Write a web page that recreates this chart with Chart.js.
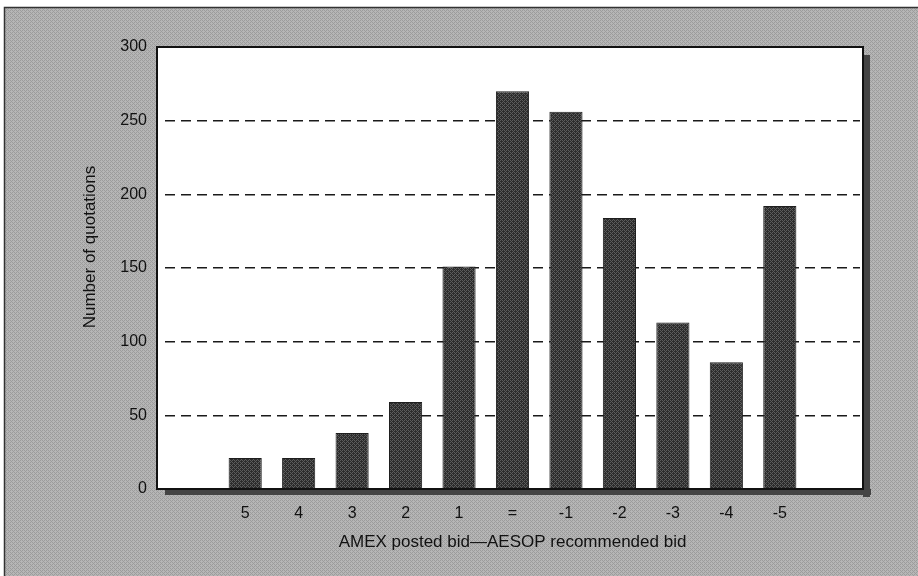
<!DOCTYPE html>
<html>
<head>
<meta charset="utf-8">
<script src="https://cdn.jsdelivr.net/npm/chart.js@4"></script>
<style>
  html, body { margin: 0; padding: 0; background: #ffffff; }
  #wrap { width: 918px; height: 576px; position: relative; }
</style>
</head>
<body>
<div id="wrap"><canvas id="bidChart" width="918" height="576"></canvas></div>
<script>
// Difference between AMEX posted bid and AESOP recommended bid
const categories = ['', '5', '4', '3', '2', '1', '=', '-1', '-2', '-3', '-4', '-5', ''];
const quotations = [null, 21, 21, 38, 59, 151, 270, 256, 184, 113, 86, 192, null];
const yTickMin = 0;
const yTickMax = 300;
const yTickStep = 50;
const yTitle = 'Number of quotations';

const FONT = "'Liberation Sans', Arial, Helvetica, sans-serif";
const TEXT = '#111111';

// small halftone-like patterns
function makePattern(a, b) {
  const c = document.createElement('canvas');
  c.width = 4; c.height = 4;
  const g = c.getContext('2d');
  g.fillStyle = a;
  g.fillRect(0, 0, 4, 4);
  g.fillStyle = b;
  g.fillRect(0, 0, 1, 1); g.fillRect(2, 2, 1, 1);
  g.fillRect(2, 0, 1, 1); g.fillRect(0, 2, 1, 1);
  g.fillRect(1, 3, 1, 1); g.fillRect(3, 1, 1, 1);
  return g.createPattern(c, 'repeat');
}
const ctx = document.getElementById('bidChart').getContext('2d');
const barFill = makePattern('#2c2c2c', '#5c5c5c');
const panelFill = makePattern('#b6b6b6', '#9c9c9c');

// the plot frame sticks out a little past the category band
const FRAME_LEFT = 8;
const FRAME_RIGHT = 3;

// panel background, shadow, white plot area and y title
const framePlugin = {
  id: 'frame',
  beforeDraw(chart) {
    const c = chart.ctx;
    const a = chart.chartArea;
    const l = a.left - FRAME_LEFT, r = a.right + FRAME_RIGHT;
    c.save();
    c.fillStyle = '#ffffff';
    c.fillRect(0, 0, chart.width, chart.height);
    c.fillStyle = panelFill;
    c.fillRect(4, 7, chart.width - 4, chart.height - 7);
    c.strokeStyle = '#333333';
    c.lineWidth = 1.5;
    c.beginPath();
    c.moveTo(4.5, chart.height);
    c.lineTo(4.5, 7.5);
    c.lineTo(chart.width, 7.5);
    c.stroke();
    // drop shadow
    c.fillStyle = '#444444';
    c.fillRect(r, a.top + 8, 7, a.bottom - a.top);
    c.fillRect(l + 8, a.bottom, r - l, 6);
    c.fillStyle = '#ffffff';
    c.fillRect(l, a.top, r - l, a.bottom - a.top);
    // y axis title
    c.translate(90, 247);
    c.rotate(-Math.PI / 2);
    c.fillStyle = TEXT;
    c.font = '17px ' + FONT;
    c.textAlign = 'center';
    c.textBaseline = 'middle';
    c.fillText(yTitle, 0, 0);
    c.restore();
  },
  afterDatasetsDraw(chart) {
    const c = chart.ctx;
    const a = chart.chartArea;
    const l = a.left - FRAME_LEFT, r = a.right + FRAME_RIGHT;
    c.save();
    c.strokeStyle = '#111111';
    c.lineWidth = 2;
    c.strokeRect(l, a.top, r - l, a.bottom - a.top);
    c.restore();
  }
};

new Chart(ctx, {
  type: 'bar',
  data: {
    labels: categories,
    datasets: [{
      label: yTitle,
      data: quotations,
      backgroundColor: barFill,
      borderColor: '#1e1e1e',
      borderWidth: 1,
      borderSkipped: 'bottom',
      barPercentage: 0.62,
      categoryPercentage: 1.0
    }]
  },
  plugins: [framePlugin],
  options: {
    responsive: false,
    animation: false,
    events: [],
    layout: {
      padding: { left: 80, right: 58, top: 47, bottom: 23 }
    },
    plugins: {
      legend: { display: false },
      tooltip: { enabled: false }
    },
    scales: {
      x: {
        offset: true,
        grid: { display: false, drawTicks: false },
        border: { display: false },
        ticks: {
          color: TEXT,
          padding: 15,
          font: { family: FONT, size: 16 },
          maxRotation: 0,
          autoSkip: false
        },
        title: {
          display: true,
          text: 'AMEX posted bid\u2014AESOP recommended bid',
          color: TEXT,
          padding: 0,
          font: { family: FONT, size: 17 }
        },
        afterFit(scale) { scale.height = 64; }
      },
      y: {
        min: yTickMin,
        max: yTickMax,
        grid: {
          drawTicks: false,
          lineWidth: 1.5,
          color(c) {
            const v = c.tick && c.tick.value;
            return (v === yTickMin || v === yTickMax) ? 'rgba(0,0,0,0)' : '#1a1a1a';
          }
        },
        border: { display: false, dash: [10, 6] },
        ticks: {
          stepSize: yTickStep,
          color: TEXT,
          padding: 18,
          font: { family: FONT, size: 16 }
        },
        afterFit(scale) { scale.width = 85; }
      }
    }
  }
});
</script>
</body>
</html>
